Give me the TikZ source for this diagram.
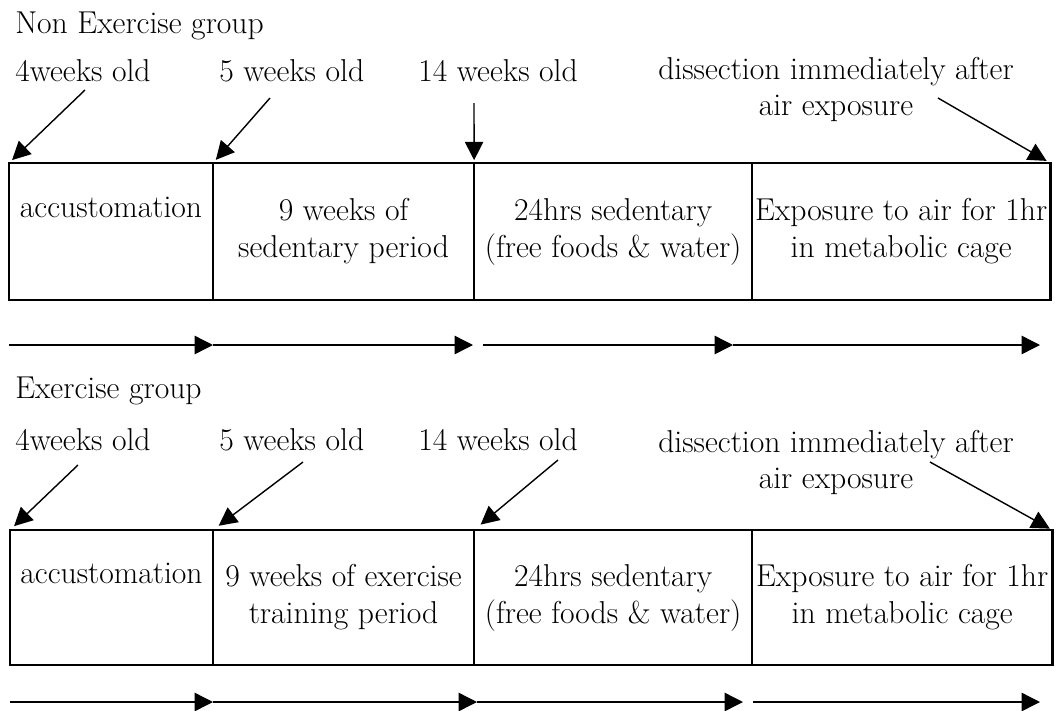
\documentclass[tikz,border=0pt]{standalone}
\usetikzlibrary{arrows.meta,positioning}
\begin{document}
\begin{tikzpicture}[
    x=0.025cm,
    y=-0.025cm,
    node distance=0pt,
    font=\fontsize{22.5}{26.3}\selectfont,
    period/.style={
        rectangle,
        draw,
        line width=1.8pt,
        inner sep=0pt,
        outer sep=0pt,
        align=center
    },
    title/.style={
        anchor=base west,
        inner sep=0pt
    },
    age/.style={
        anchor=base west,
        inner sep=0pt
    },
    note/.style={
        anchor=base,
        inner sep=0pt,
        align=center,
        font=\fontsize{22.5}{25}\selectfont
    },
    arrow/.style={
        -{Triangle[length=13pt,width=13pt]},
        line width=1pt
    }
]
\useasboundingbox (0,0) rectangle (1060,711);

% Non exercise group
\node [title] (nontitle) at (15,33) {Non Exercise group};
\node [age] (nonfour) at (15,81) {4weeks old};
\node [age] (nonfive) at (219,81) {5 weeks old};
\node [age] (nonfourteen) at (418,81) {14 weeks old};
\node [note] (nondissect) at (836,115) {dissection immediately after\\air exposure};

\node [period, anchor=north west, minimum width=5.1cm, minimum height=3.425cm] (nonacc) at (9,163) {accustomation\\\strut};
\node [period, right=of nonacc, minimum width=6.525cm, minimum height=3.425cm] (nonsed) {9 weeks of\\sedentary period};
\node [period, right=of nonsed, minimum width=6.95cm, minimum height=3.425cm] (nonrest) {24hrs sedentary\\(free foods \& water)};
\node [period, right=of nonrest, minimum width=7.45cm, minimum height=3.425cm] (noncage) {Exposure to air for 1hr\\in metabolic cage};

\coordinate (nonfour-s) at (85,90);
\coordinate (nonfive-s) at (270,98);
\coordinate (nonfourteen-s) at (474,103);
\coordinate (nondissect-s) at (938,98);
\draw [arrow, shorten >=3pt] (nonfour-s) -- (nonacc.north west);
\draw [arrow, shorten >=3pt] (nonfive-s) -- (nonsed.north west);
\draw [arrow, shorten >=2pt] (nonfourteen-s) -- (nonsed.north east);
\draw [arrow, shorten >=3pt] (nondissect-s) -- (noncage.north east);

% Non exercise time line
\coordinate (nonta) at (9,345);
\coordinate (nontb) at (213,345);
\coordinate (nontc) at (473,345);
\coordinate (nontd) at (483,345);
\coordinate (nonte) at (733,345);
\coordinate (nontf) at (1040,345);
\draw [arrow] (nonta) -- (nontb);
\draw [arrow] (nontb) -- (nontc);
\draw [arrow] (nontd) -- (nonte);
\draw [arrow] (nonte) -- (nontf);

% Exercise group
\node [title] (extitle) at (15,398) {Exercise group};
\node [age] (exfour) at (15,450) {4weeks old};
\node [age] (exfive) at (219,450) {5 weeks old};
\node [age] (exfourteen) at (418,450) {14 weeks old};
\node [note] (exdissect) at (836,488) {dissection immediately after\\air exposure};

\node [period, anchor=north west, minimum width=5.075cm, minimum height=3.375cm] (exacc) at (10,530) {accustomation\\\strut};
\node [period, right=of exacc, minimum width=6.525cm, minimum height=3.375cm] (extrain) {9 weeks of exercise\\training period};
\node [period, right=of extrain, minimum width=6.95cm, minimum height=3.375cm] (exrest) {24hrs sedentary\\(free foods \& water)};
\node [period, right=of exrest, minimum width=7.5cm, minimum height=3.375cm] (excage) {Exposure to air for 1hr\\in metabolic cage};

\coordinate (exfour-s) at (78,465);
\coordinate (exfive-s) at (303,462);
\coordinate (exfourteen-s) at (558,460);
\coordinate (exdissect-s) at (930,462);
\draw [arrow, shorten >=4pt] (exfour-s) -- (exacc.north west);
\draw [arrow, shorten >=5pt] (exfive-s) -- (extrain.north west);
\draw [arrow, shorten >=6pt] (exfourteen-s) -- (extrain.north east);
\draw [arrow, shorten >=2pt] (exdissect-s) -- (excage.north east);

% Exercise time line
\coordinate (exta) at (10,702);
\coordinate (extb) at (213,702);
\coordinate (extc) at (477,702);
\coordinate (extd) at (743,702);
\coordinate (exte) at (753,702);
\coordinate (extf) at (1040,702);
\draw [arrow] (exta) -- (extb);
\draw [arrow] (extb) -- (extc);
\draw [arrow] (extc) -- (extd);
\draw [arrow] (exte) -- (extf);

\end{tikzpicture}
\end{document}
